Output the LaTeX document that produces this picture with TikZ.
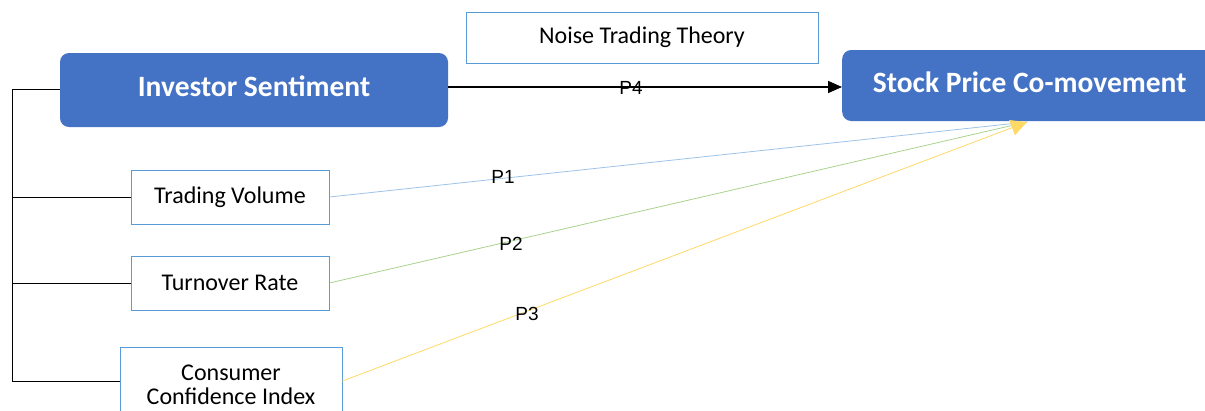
\documentclass[tikz,border=0pt]{standalone}
\usepackage{fontspec}
\setmainfont{Carlito}
\newfontfamily\labfont{Liberation Sans}
\usetikzlibrary{arrows.meta}
\definecolor{mainblue}{HTML}{4472C4}
\definecolor{lineblue}{HTML}{9DC3E6}
\definecolor{boxblue}{HTML}{5B9BD5}
\definecolor{linegreen}{HTML}{A9D18E}
\definecolor{lineyellow}{HTML}{FFD966}
\begin{document}
\begin{tikzpicture}[x=1pt,y=-1pt,
  mainbox/.style={draw=none,fill=mainblue,rounded corners=9pt,text=white,font=\bfseries\fontsize{29.5}{34}\selectfont,inner sep=0pt},
  subbox/.style={draw=boxblue,line width=0.8pt,fill=white,font=\fontsize{24}{25}\selectfont,inner sep=0pt,align=center},
  plab/.style={font=\labfont\fontsize{19}{20}\selectfont,inner sep=1pt},
  conn/.style={line width=0.8pt}
]
\useasboundingbox (0,0) rectangle (1205,410);
\node[mainbox,minimum width=388pt,minimum height=74pt] (inv) at (254,90) {\raisebox{8pt}{Investor Sentiment}};
\node[mainbox,minimum width=400pt,minimum height=71pt,anchor=west] (spc) at (842,85.5) {\hspace*{-25pt}\raisebox{6pt}{Stock Price Co-movement}};
\node[subbox,minimum width=352pt,minimum height=51pt] (ntt) at (642,37.5) {Noise Trading Theory};
\node[subbox,minimum width=198pt,minimum height=54pt] (tv) at (230,197) {Trading Volume};
\node[subbox,minimum width=198pt,minimum height=54pt] (tr) at (230,283) {Turnover Rate};
\node[subbox,minimum width=222pt,minimum height=80pt] (cci) at (231,387) {\raisebox{3pt}{\begin{tabular}{@{}c@{}}Consumer\\[-1pt]Confidence Index\end{tabular}}};
\coordinate (lt) at (12,89);
\coordinate (lb) at (12,381);
\coordinate (tip) at (1027,122);
% bracket
\draw[conn] (inv.west |- lt) -- (lt) -- (lb) -- (lb -| cci.west);
\draw[conn] (12,197) -- (tv.west);
\draw[conn] (12,283) -- (tr.west);
% colored lines
\draw[lineblue,line width=0.8pt] (tv.east) -- (tip);
\draw[linegreen,line width=0.8pt] (tr.east) -- (tip);
\draw[lineyellow,line width=0.8pt,-{Triangle[length=16pt,width=16pt]}] (cci.east |- lb) -- (tip);
% P4 arrow
\draw[line width=1.5pt,-{Triangle[length=14pt,width=12pt]}] (inv.east |- 0,87) -- (spc.west |- 0,87);
\node[plab] (p4) at (631,88) {P4};
\node[plab] (p1) at (503,177) {P1};
\node[plab] (p2) at (511,244) {P2};
\node[plab] (p3) at (527,314) {P3};
\end{tikzpicture}
\end{document}
